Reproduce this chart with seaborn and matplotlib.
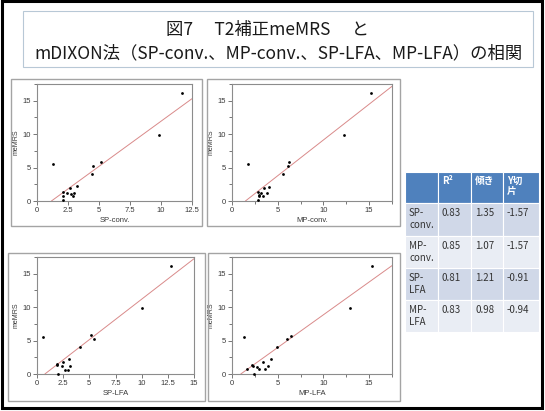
import matplotlib
matplotlib.use("Agg")
import matplotlib.pyplot as plt
from matplotlib.patches import Rectangle
import seaborn as sns
import pandas as pd

# meMRS vs each mDIXON method
sp_conv_x = [11.7, 9.8, 1.3, 4.5, 5.2, 4.4, 2.1, 2.1, 2.1, 2.4, 2.7, 2.75, 2.9, 3.0, 3.2]
sp_conv_y = [16.1, 9.9, 5.5, 5.25, 5.9, 4.1, 1.4, 0.8, 0.1, 1.25, 1.9, 1.0, 0.8, 1.15, 2.25]

mp_conv_x = [15.2, 12.2, 1.8, 6.25, 6.1, 5.6, 2.8, 2.9, 2.8, 3.15, 3.5, 3.4, 3.0, 3.8, 4.05]
mp_conv_y = [16.1, 9.9, 5.5, 5.9, 5.3, 4.0, 1.4, 0.9, 0.15, 1.2, 1.9, 0.75, 0.75, 1.25, 2.1]

sp_lfa_x = [12.8, 10.0, 0.6, 5.2, 5.4, 4.1, 1.95, 2.05, 2.4, 2.5, 2.95, 3.1, 3.2, 2.7, 1.9]
sp_lfa_y = [16.1, 9.9, 5.5, 5.8, 5.2, 4.0, 1.45, 0.05, 1.15, 1.8, 0.65, 2.25, 1.15, 0.65, 1.3]

mp_lfa_x = [15.3, 12.9, 1.35, 6.4, 6.0, 4.9, 1.65, 2.3, 2.45, 2.7, 2.9, 3.4, 3.6, 3.9, 4.3, 2.2]
mp_lfa_y = [16.2, 9.85, 5.5, 5.75, 5.25, 4.0, 0.7, 1.2, 0.05, 1.1, 0.7, 1.85, 0.75, 1.2, 2.2, 1.35]

# regression table
methods = ["SP-\nconv.", "MP-\nconv.", "SP-\nLFA", "MP-\nLFA"]
r2 = ["0.83", "0.85", "0.81", "0.83"]
slopes = [1.35, 1.07, 1.21, 0.98]
intercepts = [-1.57, -1.57, -0.91, -0.94]
headers = ["", "R²", "傾き", "Y切\n片"]

xlabels = ["SP-conv.", "MP-conv.", "SP-LFA", "MP-LFA"]
x_major = [[0, 2.5, 5, 7.5, 10, 12.5], [0, 5, 10, 15],
           [0, 2.5, 5, 7.5, 10, 12.5, 15], [0, 5, 10, 15]]
x_minor = [[], [2.5, 7.5, 12.5, 17.5], [], [2.5, 7.5, 12.5, 17.5]]
x_max = [12.5, 17.5, 15, 17.5]
y_major = [0, 5, 10, 15]
y_minor = [2.5, 7.5, 12.5, 17.5]

sns.set_style("white")
plt.rcParams["font.family"] = ["Noto Sans CJK JP", "DejaVu Sans"]

W, H = 545, 411
fig = plt.figure(figsize=(W / 100, H / 100), dpi=100)


def fx(x):
    return x / W


def fy(y):
    return 1 - y / H


def box(x0, y0, x1, y1, color, lw):
    fig.add_artist(Rectangle((fx(x0), fy(y1)), (x1 - x0) / W, (y1 - y0) / H,
                             transform=fig.transFigure, fill=False,
                             edgecolor=color, linewidth=lw))


# slide frame and title box
box(1.5, 1.5, 542, 408, "black", 2.2)
box(23, 11, 533, 67, "#b8c8d6", 0.8)
fig.text(fx(268), fy(30), "図7　 T2補正meMRS　 と", ha="center", va="center",
         fontsize=12.5, color="#1a1a1a")
fig.text(fx(279), fy(53), "mDIXON法（SP-conv.、MP-conv.、SP-LFA、MP-LFA）の相関",
         ha="center", va="center", fontsize=12.5, color="#1a1a1a")

# panel boxes
box(11, 79, 202, 226, "#a4a4a4", 1.0)
box(207, 79, 400, 226, "#a4a4a4", 1.0)
box(8, 253, 205, 401, "#a4a4a4", 1.0)
box(208, 253, 400, 401, "#a4a4a4", 1.0)

data = [(sp_conv_x, sp_conv_y), (mp_conv_x, mp_conv_y),
        (sp_lfa_x, sp_lfa_y), (mp_lfa_x, mp_lfa_y)]
rects = [[37, 84, 192, 201], [232, 84, 392, 201],
         [37, 257, 194, 374], [232, 257, 392, 374]]

tick_font = ["Liberation Sans", "DejaVu Sans"]

for i, (xs, ys) in enumerate(data):
    x0, y0, x1, y1 = rects[i]
    ax = fig.add_axes([fx(x0), fy(y1), (x1 - x0) / W, (y1 - y0) / H])
    df = pd.DataFrame({"x": xs, "y": ys})
    sns.scatterplot(data=df, x="x", y="y", ax=ax, color="black", s=4,
                    linewidth=0, clip_on=False, zorder=3)
    # fitted line from the table's slope / intercept
    ax.axline((0, intercepts[i]), slope=slopes[i], color="#d98a8a", lw=0.7)
    ax.set_xlim(0, x_max[i])
    ax.set_ylim(0, 17.5)
    ax.set_xticks(x_major[i])
    ax.set_xticklabels([f"{v:g}" for v in x_major[i]], fontsize=5.5,
                       family=tick_font, color="#383838")
    ax.set_xticks(x_minor[i], minor=True)
    ax.set_yticks(y_major)
    ax.set_yticklabels([f"{v:g}" for v in y_major], fontsize=5.5,
                       family=tick_font, color="#383838")
    ax.set_yticks(y_minor, minor=True)
    ax.tick_params(which="both", direction="out", color="#606060", width=0.6,
                   pad=1.5, bottom=True, left=True)
    ax.tick_params(which="major", length=3)
    ax.tick_params(which="minor", length=2)
    for s in ax.spines.values():
        s.set_color("#8c8c8c")
        s.set_linewidth(0.8)
    ax.set_xlabel(xlabels[i], fontsize=5.5, color="#383838", labelpad=2,
                  family=tick_font)
    ax.set_ylabel("meMRS", fontsize=5, color="#383838", labelpad=2,
                  family=tick_font)

# table
col_x = [405, 438, 471, 503, 539]
row_y = [172, 203, 236, 268, 300, 332]
fills = ["#d0d8e8", "#e9edf4", "#d0d8e8", "#e9edf4"]
tax = fig.add_axes([fx(col_x[0]), fy(row_y[-1]), (col_x[-1] - col_x[0]) / W,
                    (row_y[-1] - row_y[0]) / H])
tax.set_xlim(col_x[0], col_x[-1])
tax.set_ylim(row_y[-1], row_y[0])
tax.axis("off")
for c in range(4):
    tax.add_patch(Rectangle((col_x[c], row_y[0]), col_x[c + 1] - col_x[c],
                            row_y[1] - row_y[0], facecolor="#4f81bd",
                            edgecolor="white", lw=0.8))
    tax.text(col_x[c] + 4, row_y[0] + 4, headers[c], ha="left", va="top",
             fontsize=7, color="white", fontweight="bold", linespacing=1.0)
for r in range(4):
    vals = [methods[r], r2[r], f"{slopes[r]:.2f}", f"{intercepts[r]:.2f}"]
    for c in range(4):
        tax.add_patch(Rectangle((col_x[c], row_y[r + 1]), col_x[c + 1] - col_x[c],
                                row_y[r + 2] - row_y[r + 1], facecolor=fills[r],
                                edgecolor="white", lw=0.8))
        tax.text(col_x[c] + 4, row_y[r + 1] + 5, vals[c], ha="left", va="top",
                 fontsize=7, color="#333333", linespacing=1.3)

fig.savefig("out.png", dpi=100)
